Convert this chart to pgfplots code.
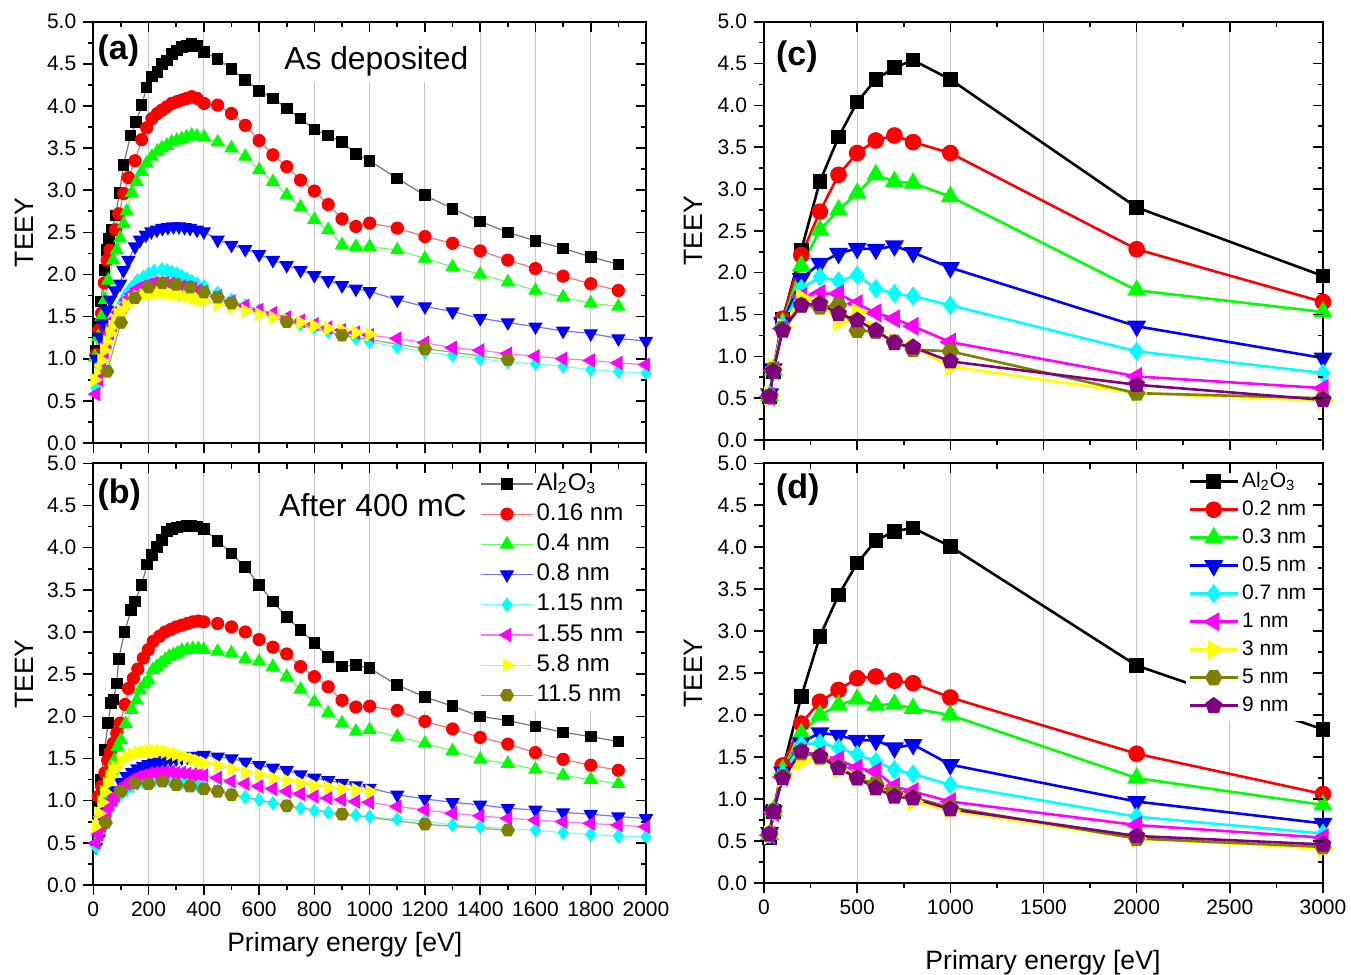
\documentclass[border=0pt]{standalone}
\usepackage{pgfplots}
\pgfplotsset{compat=1.18}
\usepackage{fontspec}
\setmainfont{Liberation Sans}

\definecolor{cgreen}{RGB}{0,255,0}
\definecolor{ccyan}{RGB}{0,255,255}
\definecolor{cmag}{RGB}{255,0,255}
\definecolor{cyel}{RGB}{255,255,0}
\definecolor{colive}{RGB}{128,128,0}
\definecolor{cpurp}{RGB}{128,0,128}

\pgfdeclareplotmark{hexagon*}{%
  \pgfpathmoveto{\pgfpointpolar{0}{\pgfplotmarksize}}%
  \pgfpathlineto{\pgfpointpolar{60}{\pgfplotmarksize}}%
  \pgfpathlineto{\pgfpointpolar{120}{\pgfplotmarksize}}%
  \pgfpathlineto{\pgfpointpolar{180}{\pgfplotmarksize}}%
  \pgfpathlineto{\pgfpointpolar{240}{\pgfplotmarksize}}%
  \pgfpathlineto{\pgfpointpolar{300}{\pgfplotmarksize}}%
  \pgfpathclose
  \pgfusepathqfillstroke}

\pgfplotsset{
  common/.style={
    scale only axis, xmin=0, ymin=0, ymax=5,
    ytick={0,0.5,...,5}, minor y tick num=1, minor x tick num=1,
    axis line style={line width=0.9pt},
    every tick/.style={black, line width=0.8pt},
    major tick length=5pt, minor tick length=2.6pt,
    tick align=outside, xtick pos=left, ytick pos=left,
    yticklabel style={/pgf/number format/.cd, fixed, fixed zerofill, precision=1},
    /pgf/number format/assume math mode=true,
    /pgf/number format/1000 sep={},
    scaled ticks=false,
    tick label style={font=\fontsize{10.5}{12}\selectfont},
    label style={font=\fontsize{13.3}{16}\selectfont},
    xmajorgrids, major x grid style={black!22, line width=0.5pt},
    ylabel={TEEY},
  },
  over/.style={
    scale only axis, xmin=0, ymin=0, ymax=5,
    ytick={0,0.5,...,5}, minor y tick num=1, minor x tick num=1,
    axis line style={draw=none},
    every tick/.style={black, line width=0.8pt},
    major tick length=5pt, minor tick length=2.6pt,
    tick align=inside, xtick pos=right, ytick pos=right,
    xticklabels={}, yticklabels={},
  },
  lt/.style={line width=0.6pt},
  rt/.style={line width=1.3pt},
  m1/.style={mark=square*, mark options={solid, draw=black, fill=black}},
  m2/.style={mark=*, mark options={solid, draw=red, fill=red}},
  m3/.style={mark=triangle*, mark options={solid, draw=cgreen, fill=cgreen}},
  m4/.style={mark=triangle*, mark options={solid, draw=blue, fill=blue, rotate=180}},
  m5/.style={mark=diamond*, mark options={solid, draw=ccyan, fill=ccyan}},
  m6/.style={mark=triangle*, mark options={solid, draw=cmag, fill=cmag, rotate=90}},
  m7/.style={mark=triangle*, mark options={solid, draw=cyel, fill=cyel, rotate=-90}},
  m8/.style={mark=hexagon*, mark options={solid, draw=colive, fill=colive}},
  m9/.style={mark=pentagon*, mark options={solid, draw=cpurp, fill=cpurp}},
}

\begin{document}
\begin{tikzpicture}
\useasboundingbox (0,0) rectangle (675.5pt,-487.5pt);

% ---------- (a) as deposited
\begin{axis}[common, at={(46.65pt,-10.85pt)}, anchor=north west,
  width=276.35pt, height=210.65pt, xmax=2000, xtick={0,200,...,2000}, xticklabels={},
  ylabel style={at={(axis description cs:-0.124,0.5)}, anchor=center}]
\fill[white] (rel axis cs:0.335,0.857) rectangle (rel axis cs:0.69,0.993);
\addplot[lt, draw=black!55, m1, mark size=2.6pt] coordinates {
(10,1.10)(20,1.42)(28,1.68)(40,2.05)(49,2.29)(57,2.42)(67,2.53)(80,2.70)(95,2.97)(109,3.30)(135,3.65)(155,3.81)(175,4.01)(193,4.22)(212,4.35)(232,4.40)(248,4.50)(266,4.54)(284,4.62)(302,4.66)(320,4.70)(338,4.71)(356,4.74)(375,4.71)(401,4.64)(450,4.56)(500,4.44)(550,4.31)(600,4.18)(650,4.09)(700,3.97)(750,3.85)(800,3.72)(850,3.65)(900,3.57)(950,3.43)(1000,3.35)(1100,3.14)(1200,2.94)(1300,2.78)(1400,2.63)(1500,2.50)(1600,2.40)(1700,2.31)(1800,2.21)(1900,2.12)};
\addplot[lt, draw=red!55, m2, mark size=3pt] coordinates {
(10,1.05)(20,1.34)(30,1.54)(40,1.90)(50,2.17)(60,2.29)(80,2.53)(92,2.72)(110,2.96)(127,3.15)(151,3.35)(175,3.60)(193,3.74)(212,3.85)(232,3.91)(248,3.95)(266,3.99)(284,4.03)(302,4.05)(320,4.07)(338,4.09)(356,4.11)(375,4.09)(401,4.03)(450,4.01)(500,3.91)(550,3.77)(600,3.59)(650,3.42)(700,3.28)(750,3.12)(800,2.99)(850,2.83)(900,2.66)(950,2.57)(1000,2.61)(1100,2.55)(1200,2.45)(1300,2.37)(1400,2.28)(1500,2.17)(1600,2.07)(1700,1.98)(1800,1.89)(1900,1.81)};
\addplot[lt, draw=cgreen!60, m3, mark size=3.6pt] coordinates {
(6,1.02)(18,1.26)(30,1.50)(42,1.70)(54,1.93)(72,2.17)(85,2.29)(97,2.43)(110,2.60)(121,2.75)(139,2.97)(157,3.10)(175,3.22)(193,3.32)(212,3.40)(232,3.46)(248,3.50)(266,3.53)(284,3.57)(302,3.59)(320,3.61)(338,3.63)(356,3.65)(375,3.64)(401,3.63)(450,3.57)(500,3.50)(550,3.40)(600,3.24)(650,3.10)(700,2.94)(750,2.80)(800,2.65)(850,2.53)(900,2.35)(950,2.33)(1000,2.33)(1100,2.29)(1200,2.19)(1300,2.09)(1400,2.00)(1500,1.91)(1600,1.81)(1700,1.73)(1800,1.66)(1900,1.62)};
\addplot[lt, draw=blue!55, m4, mark size=3.6pt] coordinates {
(10,1.00)(24,1.26)(36,1.42)(49,1.58)(61,1.70)(79,1.81)(97,1.89)(109,2.05)(127,2.17)(151,2.33)(169,2.41)(190,2.47)(210,2.51)(230,2.53)(250,2.55)(270,2.56)(290,2.57)(310,2.57)(330,2.56)(350,2.55)(375,2.53)(400,2.51)(450,2.41)(500,2.35)(550,2.30)(600,2.24)(650,2.17)(700,2.11)(750,2.05)(800,1.99)(850,1.93)(900,1.87)(950,1.83)(1000,1.80)(1100,1.70)(1200,1.62)(1300,1.56)(1400,1.48)(1500,1.43)(1600,1.38)(1700,1.33)(1800,1.30)(1900,1.24)(2000,1.21)};
\addplot[lt, draw=ccyan!55, m5, mark size=3.2pt] coordinates {
(10,0.65)(20,0.80)(30,0.95)(42,1.14)(55,1.27)(67,1.38)(80,1.49)(91,1.58)(103,1.66)(115,1.74)(127,1.80)(139,1.85)(160,1.93)(181,1.97)(200,2.01)(220,2.04)(248,2.06)(266,2.05)(284,2.03)(302,2.01)(320,1.98)(338,1.95)(356,1.92)(375,1.89)(401,1.86)(450,1.78)(500,1.70)(550,1.63)(600,1.57)(650,1.51)(700,1.46)(750,1.41)(800,1.37)(850,1.32)(900,1.28)(950,1.24)(1000,1.20)(1100,1.14)(1200,1.08)(1300,1.04)(1400,1.00)(1500,0.96)(1600,0.94)(1700,0.91)(1800,0.87)(1900,0.85)(2000,0.83)};
\addplot[lt, draw=cmag!55, m6, mark size=3.6pt] coordinates {
(10,0.58)(20,0.75)(30,0.90)(40,1.05)(50,1.18)(60,1.30)(70,1.40)(80,1.48)(90,1.55)(100,1.60)(120,1.70)(140,1.77)(160,1.83)(180,1.86)(200,1.88)(220,1.90)(240,1.90)(260,1.90)(280,1.89)(300,1.88)(320,1.86)(340,1.85)(360,1.83)(380,1.81)(400,1.79)(450,1.74)(500,1.68)(550,1.63)(600,1.58)(650,1.54)(700,1.49)(750,1.45)(800,1.41)(850,1.37)(900,1.34)(950,1.31)(1000,1.28)(1100,1.24)(1200,1.19)(1300,1.13)(1400,1.10)(1500,1.06)(1600,1.03)(1700,1.00)(1800,0.98)(1900,0.95)(2000,0.93)};
\addplot[lt, draw=cyel!80!black!55, m7, mark size=3.6pt] coordinates {
(5,0.75)(20,0.87)(30,0.98)(40,1.10)(50,1.20)(60,1.30)(70,1.38)(80,1.45)(90,1.52)(100,1.57)(120,1.64)(140,1.70)(160,1.74)(180,1.76)(200,1.77)(220,1.78)(240,1.78)(260,1.78)(280,1.77)(300,1.76)(320,1.75)(340,1.74)(360,1.72)(380,1.71)(400,1.69)(450,1.65)(500,1.61)(550,1.57)(600,1.53)(650,1.49)(700,1.46)(750,1.43)(800,1.39)(850,1.36)(900,1.34)(950,1.31)(1000,1.29)};
\addplot[lt, draw=colive!70, m8, mark size=3.2pt] coordinates {
(50,0.85)(100,1.43)(150,1.72)(200,1.85)(250,1.90)(300,1.88)(350,1.85)(400,1.79)(450,1.73)(500,1.66)(700,1.44)(900,1.28)(1200,1.12)(1500,0.99)};
\node[anchor=west, inner sep=0pt, font=\fontsize{17}{20}\selectfont\bfseries] at (rel axis cs:0.007,0.932) {(a)};
\node[anchor=west, inner sep=0pt, font=\fontsize{15.9}{19}\selectfont] at (rel axis cs:0.345,0.905) {As deposited};
\end{axis}
\begin{axis}[over, at={(46.65pt,-10.85pt)}, anchor=north west,
  width=276.35pt, height=210.65pt, xmax=2000, xtick={0,200,...,2000}]
\end{axis}

% ---------- (b) after 400 mC
\begin{axis}[common, at={(46.65pt,-231.65pt)}, anchor=north west,
  width=276.35pt, height=210.85pt, xmax=2000, xtick={0,200,...,2000},
  xlabel={Primary energy [eV]},
  xlabel style={at={(axis description cs:0.455,-0.142)}, anchor=center},
  ylabel style={at={(axis description cs:-0.124,0.5)}, anchor=center},
  legend cell align=left,
  legend image code/.code={\draw[mark repeat=2,mark phase=2] plot coordinates {(0pt,0pt)(13pt,0pt)(26pt,0pt)};},
  legend style={at={(rel axis cs:0.696,0.990)}, anchor=north west, draw=none, fill=white,
    font=\fontsize{12}{13}\selectfont, inner sep=1pt, row sep=1.1pt,
    nodes={inner sep=1.5pt, text height=8.6pt, text depth=2.4pt}}]
\fill[white] (rel axis cs:0.56,0.413) rectangle (rel axis cs:0.995,0.993);
\addplot[lt, draw=black!55, m1, mark size=2.6pt] coordinates {
(15,0.99)(28,1.25)(40,1.60)(54,1.92)(64,2.16)(73,2.20)(85,2.39)(92,2.68)(113,3.00)(137,3.26)(151,3.36)(175,3.56)(195,3.80)(212,3.91)(230,4.01)(248,4.09)(266,4.19)(284,4.22)(302,4.24)(320,4.25)(338,4.26)(356,4.26)(375,4.25)(400,4.22)(450,4.08)(500,3.93)(550,3.77)(600,3.56)(650,3.36)(700,3.18)(750,3.02)(800,2.87)(850,2.70)(900,2.59)(950,2.61)(1000,2.57)(1100,2.37)(1200,2.23)(1300,2.12)(1400,2.00)(1500,1.95)(1600,1.88)(1700,1.81)(1800,1.76)(1900,1.70)};
\addlegendentry{Al\textsubscript{2}O\textsubscript{3}}
\addplot[lt, draw=red!55, m2, mark size=3pt] coordinates {
(18,1.05)(30,1.17)(42,1.33)(52,1.48)(62,1.58)(72,1.68)(85,1.80)(97,1.92)(115,2.14)(127,2.33)(145,2.45)(161,2.56)(181,2.69)(199,2.79)(217,2.89)(240,2.95)(260,3.00)(280,3.03)(300,3.06)(320,3.08)(340,3.10)(360,3.12)(380,3.13)(400,3.12)(450,3.10)(500,3.06)(550,3.00)(600,2.91)(650,2.82)(700,2.74)(750,2.59)(800,2.47)(850,2.35)(900,2.19)(950,2.11)(1000,2.12)(1100,2.07)(1200,1.94)(1300,1.85)(1400,1.75)(1500,1.67)(1600,1.57)(1700,1.49)(1800,1.42)(1900,1.36)};
\addlegendentry{0.16 nm}
\addplot[lt, draw=cgreen!60, m3, mark size=3.6pt] coordinates {
(24,0.85)(40,1.01)(54,1.17)(67,1.36)(76,1.48)(88,1.64)(100,1.72)(117,1.91)(139,2.08)(157,2.19)(169,2.31)(185,2.38)(200,2.43)(215,2.55)(230,2.59)(245,2.63)(260,2.67)(275,2.71)(290,2.73)(305,2.75)(320,2.78)(340,2.79)(360,2.80)(380,2.80)(400,2.79)(450,2.77)(500,2.75)(550,2.68)(600,2.65)(650,2.59)(700,2.47)(750,2.32)(800,2.17)(850,2.04)(900,1.92)(950,1.82)(1000,1.84)(1100,1.76)(1200,1.68)(1300,1.59)(1400,1.49)(1500,1.44)(1600,1.37)(1700,1.30)(1800,1.25)(1900,1.20)};
\addlegendentry{0.4 nm}
\addplot[lt, draw=blue!55, m4, mark size=3.6pt] coordinates {
(10,0.45)(20,0.55)(30,0.65)(40,0.75)(50,0.87)(60,0.97)(70,1.05)(80,1.12)(100,1.22)(120,1.29)(140,1.34)(160,1.38)(180,1.41)(200,1.43)(220,1.45)(240,1.46)(260,1.48)(280,1.49)(300,1.50)(320,1.51)(340,1.52)(360,1.53)(380,1.53)(400,1.54)(450,1.52)(500,1.50)(550,1.46)(600,1.42)(650,1.39)(700,1.36)(750,1.31)(800,1.27)(850,1.24)(900,1.21)(950,1.18)(1000,1.15)(1100,1.07)(1200,1.02)(1300,0.98)(1400,0.95)(1500,0.91)(1600,0.89)(1700,0.86)(1800,0.84)(1900,0.81)(2000,0.79)};
\addlegendentry{0.8 nm}
\addplot[lt, draw=ccyan!55, m5, mark size=3.2pt] coordinates {
(10,0.45)(20,0.55)(30,0.65)(40,0.75)(50,0.83)(60,0.90)(70,0.96)(80,1.01)(100,1.08)(120,1.13)(140,1.17)(160,1.20)(180,1.22)(200,1.23)(220,1.24)(240,1.24)(260,1.24)(280,1.23)(300,1.22)(320,1.21)(340,1.20)(360,1.19)(380,1.17)(400,1.16)(450,1.12)(500,1.08)(550,1.04)(600,1.01)(650,0.97)(700,0.94)(750,0.91)(800,0.88)(850,0.86)(900,0.84)(950,0.83)(1000,0.81)(1100,0.78)(1200,0.76)(1300,0.71)(1400,0.69)(1500,0.67)(1600,0.65)(1700,0.62)(1800,0.60)(1900,0.58)(2000,0.57)};
\addlegendentry{1.15 nm}
\addplot[lt, draw=cmag!55, m6, mark size=3.6pt] coordinates {
(10,0.50)(20,0.60)(30,0.70)(40,0.80)(50,0.88)(60,0.95)(70,1.01)(80,1.06)(100,1.14)(120,1.20)(140,1.25)(160,1.28)(180,1.30)(200,1.32)(220,1.33)(240,1.34)(260,1.34)(280,1.34)(300,1.33)(320,1.33)(340,1.32)(360,1.31)(380,1.31)(400,1.30)(450,1.27)(500,1.23)(550,1.20)(600,1.17)(650,1.14)(700,1.11)(750,1.08)(800,1.05)(850,1.03)(900,1.01)(950,0.99)(1000,0.98)(1100,0.93)(1200,0.89)(1300,0.85)(1400,0.82)(1500,0.79)(1600,0.77)(1700,0.75)(1800,0.73)(1900,0.71)(2000,0.69)};
\addlegendentry{1.55 nm}
\addplot[lt, draw=cyel!80!black!55, m7, mark size=3.6pt] coordinates {
(10,0.70)(20,0.85)(30,0.98)(40,1.10)(50,1.20)(60,1.28)(70,1.35)(80,1.40)(100,1.47)(120,1.52)(140,1.55)(160,1.57)(180,1.58)(200,1.59)(220,1.59)(240,1.59)(260,1.58)(280,1.56)(300,1.55)(320,1.53)(340,1.51)(360,1.49)(380,1.47)(400,1.45)(450,1.42)(500,1.38)(550,1.34)(600,1.31)(650,1.27)(700,1.24)(750,1.21)(800,1.18)(850,1.16)(900,1.14)(950,1.13)(1000,1.11)};
\addlegendentry{5.8 nm}
\addplot[lt, draw=colive!70, m8, mark size=3.2pt] coordinates {
(45,0.74)(100,1.11)(150,1.21)(200,1.20)(250,1.23)(300,1.19)(350,1.17)(400,1.14)(450,1.11)(500,1.07)(700,0.94)(900,0.84)(1200,0.72)(1500,0.65)};
\addlegendentry{11.5 nm}
\node[anchor=west, inner sep=0pt, font=\fontsize{17}{20}\selectfont\bfseries] at (rel axis cs:0.007,0.925) {(b)};
\node[anchor=west, inner sep=0pt, font=\fontsize{15.9}{19}\selectfont] at (rel axis cs:0.336,0.901) {After 400 mC};
\end{axis}
\begin{axis}[over, at={(46.65pt,-231.65pt)}, anchor=north west,
  width=276.35pt, height=210.85pt, xmax=2000, xtick={0,200,...,2000}]
\end{axis}

% ---------- (c)
\begin{axis}[common, at={(382pt,-10.85pt)}, anchor=north west,
  width=279.5pt, height=209.15pt, xmax=3000, xtick={0,500,...,3000}, xticklabels={},
  ylabel style={at={(axis description cs:-0.127,0.5)}, anchor=center}]
\addplot[rt, draw=black, m1, mark size=3pt] coordinates {
(30,0.52)(50,0.82)(100,1.44)(200,2.27)(300,3.09)(400,3.62)(500,4.04)(600,4.31)(700,4.45)(800,4.54)(1000,4.31)(2000,2.78)(3000,1.96)};
\addplot[rt, draw=red, m2, mark size=3.5pt] coordinates {
(30,0.52)(50,0.84)(100,1.45)(200,2.21)(300,2.73)(400,3.17)(500,3.43)(600,3.58)(700,3.64)(800,3.56)(1000,3.43)(2000,2.28)(3000,1.65)};
\addplot[rt, draw=cgreen, m3, mark size=4.2pt] coordinates {
(30,0.53)(50,0.84)(100,1.40)(200,2.08)(300,2.51)(400,2.75)(500,2.95)(600,3.17)(700,3.09)(800,3.07)(1000,2.91)(2000,1.79)(3000,1.53)};
\addplot[rt, draw=blue, m4, mark size=4.2pt] coordinates {
(30,0.55)(50,0.85)(100,1.40)(200,1.93)(300,2.11)(400,2.23)(500,2.29)(600,2.28)(700,2.32)(800,2.24)(1000,2.06)(2000,1.36)(3000,0.98)};
\addplot[rt, draw=ccyan, m5, mark size=3.8pt] coordinates {
(30,0.53)(50,0.84)(100,1.38)(200,1.81)(300,1.95)(400,1.90)(500,1.97)(600,1.81)(700,1.75)(800,1.72)(1000,1.61)(2000,1.06)(3000,0.80)};
\addplot[rt, draw=cmag, m6, mark size=4.2pt] coordinates {
(30,0.52)(50,0.83)(100,1.33)(200,1.71)(300,1.75)(400,1.75)(500,1.63)(600,1.52)(700,1.45)(800,1.36)(1000,1.17)(2000,0.76)(3000,0.62)};
\addplot[rt, draw=cyel, m7, mark size=4.2pt] coordinates {
(30,0.53)(50,0.86)(100,1.35)(200,1.70)(300,1.63)(400,1.41)(500,1.53)(600,1.31)(700,1.17)(800,1.11)(1000,0.88)(2000,0.56)(3000,0.47)};
\addplot[rt, draw=colive, m8, mark size=3.6pt] coordinates {
(30,0.52)(50,0.84)(100,1.33)(200,1.61)(300,1.59)(400,1.61)(500,1.31)(600,1.30)(700,1.17)(800,1.08)(1000,1.06)(2000,0.56)(3000,0.50)};
\addplot[rt, draw=cpurp, m9, mark size=3.6pt] coordinates {
(30,0.52)(50,0.82)(100,1.31)(200,1.61)(300,1.63)(400,1.51)(500,1.43)(600,1.31)(700,1.16)(800,1.11)(1000,0.94)(2000,0.66)(3000,0.48)};
\node[anchor=west, inner sep=0pt, font=\fontsize{17}{20}\selectfont\bfseries] at (rel axis cs:0.021,0.916) {(c)};
\end{axis}
\begin{axis}[over, at={(382pt,-10.85pt)}, anchor=north west,
  width=279.5pt, height=209.15pt, xmax=3000, xtick={0,500,...,3000}]
\end{axis}

% ---------- (d)
\begin{axis}[common, at={(382pt,-231.65pt)}, anchor=north west,
  width=279.5pt, height=209.85pt, xmax=3000, xtick={0,500,...,3000},
  xlabel={Primary energy [eV]},
  xlabel style={at={(axis description cs:0.499,-0.19)}, anchor=center},
  ylabel style={at={(axis description cs:-0.127,0.5)}, anchor=center},
  legend cell align=left,
  legend image code/.code={\draw[mark repeat=2,mark phase=2] plot coordinates {(0pt,0pt)(12pt,0pt)(24pt,0pt)};},
  legend style={at={(rel axis cs:0.755,0.994)}, anchor=north west, draw=none, fill=white,
    font=\fontsize{10.5}{12}\selectfont, inner sep=1pt, row sep=0.5pt,
    nodes={inner sep=1.5pt, text height=8pt, text depth=2.5pt}}]
\addplot[rt, draw=black, m1, mark size=3pt] coordinates {
(30,0.54)(50,0.85)(100,1.35)(200,2.22)(300,2.94)(400,3.43)(500,3.81)(600,4.08)(700,4.19)(800,4.23)(1000,4.01)(2000,2.59)(3000,1.83)};
\addlegendentry{Al\textsubscript{2}O\textsubscript{3}}
\addplot[rt, draw=red, m2, mark size=3.5pt] coordinates {
(30,0.58)(50,0.86)(100,1.40)(200,1.90)(300,2.16)(400,2.30)(500,2.44)(600,2.46)(700,2.41)(800,2.38)(1000,2.21)(2000,1.54)(3000,1.06)};
\addlegendentry{0.2 nm}
\addplot[rt, draw=cgreen, m3, mark size=4.2pt] coordinates {
(30,0.58)(50,0.86)(100,1.35)(200,1.78)(300,2.00)(400,2.12)(500,2.19)(600,2.12)(700,2.13)(800,2.08)(1000,2.00)(2000,1.25)(3000,0.93)};
\addlegendentry{0.3 nm}
\addplot[rt, draw=blue, m4, mark size=4.2pt] coordinates {
(30,0.60)(50,0.86)(100,1.32)(200,1.67)(300,1.79)(400,1.76)(500,1.70)(600,1.70)(700,1.61)(800,1.65)(1000,1.41)(2000,0.97)(3000,0.71)};
\addlegendentry{0.5 nm}
\addplot[rt, draw=ccyan, m5, mark size=3.8pt] coordinates {
(30,0.58)(50,0.85)(100,1.30)(200,1.65)(300,1.67)(400,1.61)(500,1.53)(600,1.45)(700,1.35)(800,1.30)(1000,1.17)(2000,0.79)(3000,0.59)};
\addlegendentry{0.7 nm}
\addplot[rt, draw=cmag, m6, mark size=4.2pt] coordinates {
(30,0.57)(50,0.84)(100,1.26)(200,1.55)(300,1.53)(400,1.47)(500,1.37)(600,1.33)(700,1.15)(800,1.09)(1000,0.97)(2000,0.69)(3000,0.54)};
\addlegendentry{1 nm}
\addplot[rt, draw=cyel, m7, mark size=4.2pt] coordinates {
(30,0.57)(50,0.85)(100,1.25)(200,1.45)(300,1.50)(400,1.35)(500,1.25)(600,1.15)(700,1.05)(800,0.97)(1000,0.86)(2000,0.53)(3000,0.41)};
\addlegendentry{3 nm}
\addplot[rt, draw=colive, m8, mark size=3.6pt] coordinates {
(30,0.58)(50,0.85)(100,1.27)(200,1.55)(300,1.50)(400,1.38)(500,1.25)(600,1.18)(700,1.07)(800,1.02)(1000,0.90)(2000,0.53)(3000,0.43)};
\addlegendentry{5 nm}
\addplot[rt, draw=cpurp, m9, mark size=3.6pt] coordinates {
(30,0.58)(50,0.85)(100,1.25)(200,1.57)(300,1.51)(400,1.37)(500,1.25)(600,1.13)(700,1.03)(800,1.01)(1000,0.88)(2000,0.56)(3000,0.46)};
\addlegendentry{9 nm}
\node[anchor=west, inner sep=0pt, font=\fontsize{17}{20}\selectfont\bfseries] at (rel axis cs:0.021,0.936) {(d)};
\end{axis}
\begin{axis}[over, at={(382pt,-231.65pt)}, anchor=north west,
  width=279.5pt, height=209.85pt, xmax=3000, xtick={0,500,...,3000}]
\end{axis}
\end{tikzpicture}
\end{document}
